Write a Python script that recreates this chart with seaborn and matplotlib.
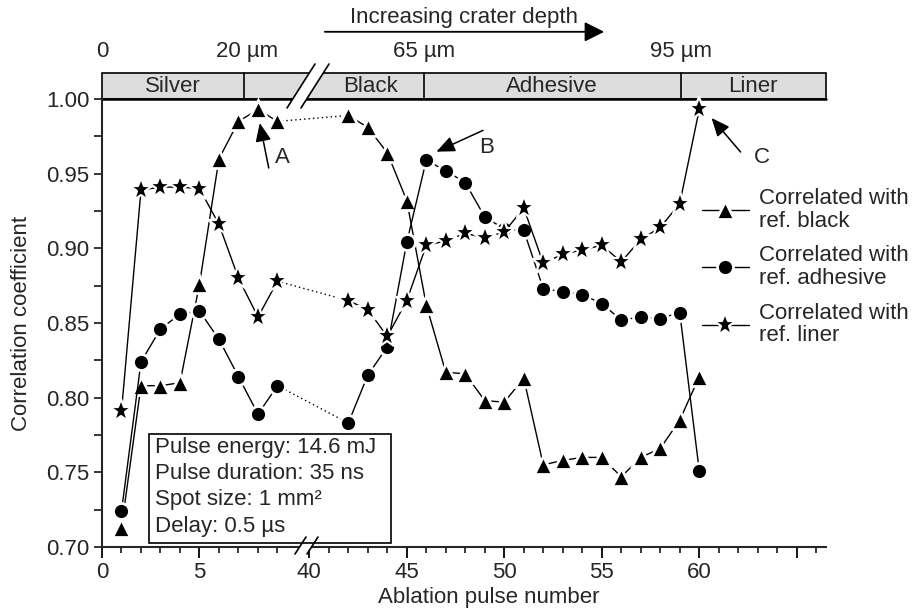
import numpy as np
import pandas as pd
import matplotlib
matplotlib.use("Agg")
import matplotlib.pyplot as plt
import seaborn as sns
import matplotlib.transforms as mtransforms
from matplotlib.patches import Rectangle, Polygon, FancyArrowPatch
from matplotlib.lines import Line2D
from matplotlib.ticker import FixedLocator, FixedFormatter

# ---------------- data ----------------
pulses_left = [1, 2, 3, 4, 5, 6, 7, 8, 9]
pulses_right = [42, 43, 44, 45, 46, 47, 48, 49, 50, 51, 52, 53, 54, 55, 56, 57, 58, 59, 60]

black_ref = [0.713, 0.808, 0.808, 0.810, 0.876, 0.960, 0.985, 0.993, 0.985,
             0.989, 0.981, 0.964, 0.932, 0.862, 0.817, 0.816, 0.798, 0.797, 0.813,
             0.755, 0.758, 0.760, 0.760, 0.747, 0.760, 0.766, 0.785, 0.814]
adhesive_ref = [0.724, 0.824, 0.846, 0.856, 0.858, 0.839, 0.814, 0.789, 0.808,
                0.783, 0.815, 0.834, 0.904, 0.959, 0.952, 0.944, 0.921, 0.913, 0.912,
                0.873, 0.871, 0.869, 0.863, 0.852, 0.854, 0.853, 0.857, 0.751]
liner_ref = [0.791, 0.939, 0.941, 0.941, 0.940, 0.916, 0.880, 0.854, 0.878,
             0.865, 0.859, 0.841, 0.865, 0.902, 0.905, 0.910, 0.907, 0.911, 0.927,
             0.890, 0.896, 0.899, 0.902, 0.891, 0.906, 0.914, 0.930, 0.993]

series_labels = ["Correlated with\nref. black",
                 "Correlated with\nref. adhesive",
                 "Correlated with\nref. liner"]
layer_names = ["Silver", "", "Black", "Adhesive", "Liner"]
layer_bounds = [0, 7.27, 9.9, 45.87, 59.04, 66.5]
depth_labels = ["0", "20 µm", "65 µm", "95 µm"]
depth_pos = [0, 7.45, 45.87, 59.04]
info_lines = ["Pulse energy: 14.6 mJ", "Pulse duration: 35 ns",
              "Spot size: 1 mm²", "Delay: 0.5 µs"]
x_major = [0, 5, 40, 45, 50, 55, 60, 65]
x_major_labels = ["0", "5", "40", "45", "50", "55", "60", ""]
x_minor = [1, 2, 3, 4, 6, 7, 8, 9] + [v for v in range(41, 67) if v % 5 != 0]

pulses = pulses_left + pulses_right
df = pd.DataFrame({
    "pulse": pulses * 3,
    "coef": black_ref + adhesive_ref + liner_ref,
    "series": sum([[s] * len(pulses) for s in series_labels], []),
})
df["segment"] = np.where(df["pulse"] < 20, "left", "right")

# ---------------- style ----------------
sns.set_style("ticks")
plt.rcParams["font.family"] = ["Liberation Sans", "DejaVu Sans"]
FS = 16

OFF = 29.37
def fwd(x):
    x = np.asarray(x, dtype=float)
    return np.where(x < 24.5, x, x - OFF)
def inv(y):
    y = np.asarray(y, dtype=float)
    return np.where(y < 9.9, y, y + OFF)

W, H = 920, 610
def fx(p): return p / W
def fy(p): return 1 - p / H

fig = plt.figure(figsize=(9.2, 6.1), dpi=100)
ax = fig.add_axes([fx(102), fy(547), 724 / W, 448 / H])
ax.set_xscale("function", functions=(fwd, inv))

markers = {series_labels[0]: ("^", 13.5, 2.0),
           series_labels[1]: ("o", 11.5, 2.0),
           series_labels[2]: ("*", 17.0, 1.6)}
for s in series_labels:
    sub = df[df["series"] == s]
    bridge = sub[sub["pulse"].isin([pulses_left[-1], pulses_right[0]])]
    sns.lineplot(data=bridge, x="pulse", y="coef", color="black", lw=1.0,
                 linestyle=(0, (1, 2.2)), estimator=None, errorbar=None,
                 legend=False, ax=ax, zorder=2)
    mk, ms, mew = markers[s]
    for seg in ["left", "right"]:
        part = sub[sub["segment"] == seg]
        sns.lineplot(data=part, x="pulse", y="coef", color="black", lw=1.0,
                     marker=mk, markersize=ms, markeredgecolor="white",
                     markeredgewidth=mew, markerfacecolor="black",
                     estimator=None, errorbar=None, legend=False, ax=ax,
                     zorder=3, clip_on=False,
                     label=s if seg == "right" else "_nolegend_")

ax.set_xlim(0, 66.5)
ax.set_ylim(0.70, 1.00)

ax.xaxis.set_major_locator(FixedLocator(x_major))
ax.xaxis.set_major_formatter(FixedFormatter(x_major_labels))
ax.xaxis.set_minor_locator(FixedLocator(x_minor))
ax.set_yticks(np.round(np.arange(0.70, 1.001, 0.05), 3))
ax.set_yticklabels([f"{v:.2f}" for v in np.arange(0.70, 1.001, 0.05)])
ax.yaxis.set_minor_locator(FixedLocator(np.round(np.arange(0.725, 1.0, 0.05), 3)))

ax.tick_params(axis="x", which="major", length=8, width=1.3, direction="out",
               labelsize=FS, pad=3, color="black")
ax.tick_params(axis="x", which="minor", length=4, width=1.3, direction="out")
ax.tick_params(axis="y", which="both", length=6, width=1.3, direction="out",
               labelsize=FS, pad=3)

for sp in ["top", "right"]:
    ax.spines[sp].set_visible(False)
for sp in ["left", "bottom"]:
    ax.spines[sp].set_linewidth(1.5)

ax.set_xlabel("Ablation pulse number", fontsize=FS)
ax.set_ylabel("Correlation coefficient", fontsize=FS)
ax.xaxis.label.set_va("center")
ax.xaxis.set_label_coords(0.534, -0.112)
ax.yaxis.set_label_coords(-0.097, 0.5)

# ---------------- top layer band ----------------
bt = mtransforms.blended_transform_factory(ax.transData, ax.transAxes)
band_top = 1.058
ax.add_patch(Rectangle((layer_bounds[0], 1.0), layer_bounds[-1] - layer_bounds[0],
                       band_top - 1.0, transform=bt, facecolor="#dddddd",
                       edgecolor="black", lw=1.2, clip_on=False, zorder=1))
ax.plot([0, 66.5], [1.0, 1.0], transform=bt, color="black", lw=1.8, clip_on=False, zorder=1.5)
for b in [layer_bounds[1], layer_bounds[3], layer_bounds[4]]:
    ax.plot([b, b], [1.0, band_top], transform=bt, color="black", lw=1.2,
            clip_on=False, zorder=1.5)
for i, name in enumerate(layer_names):
    if name:
        lo, hi = layer_bounds[i], layer_bounds[i + 1]
        if name == "Black":
            lo = 40.4
        c = float(inv((fwd(lo) + fwd(hi)) / 2))
        ax.text(c, 1.029, name, transform=bt, ha="center", va="center",
                fontsize=FS, clip_on=False)
for lab, p in zip(depth_labels, depth_pos):
    ax.text(p, 1.105, lab, transform=bt, ha="center", va="center", fontsize=FS)

# increasing depth arrow
ax.text(0.50, 1.181, "Increasing crater depth", transform=ax.transAxes,
        ha="center", va="center", fontsize=FS)
ax.add_patch(FancyArrowPatch((0.304, 1.150), (0.6975, 1.150), transform=ax.transAxes,
                             arrowstyle="-|>,head_length=0.6,head_width=0.3",
                             mutation_scale=20, lw=1.3, color="black", clip_on=False))

# ---------------- break marks ----------------
def brk(s1, s2, ymin, ymax):
    def xat(seg, y):
        (xb, yb), (xt, yt) = seg
        return xb + (xt - xb) * (yb - y) / (yb - yt)
    poly = [(fx(xat(s1, ymax)), fy(ymax)), (fx(xat(s1, ymin)), fy(ymin)),
            (fx(xat(s2, ymin)), fy(ymin)), (fx(xat(s2, ymax)), fy(ymax))]
    fig.add_artist(Polygon(poly, closed=True, facecolor="white", edgecolor="none",
                           transform=fig.transFigure, zorder=5))
    for (xb, yb), (xt, yt) in (s1, s2):
        fig.add_artist(Line2D([fx(xb), fx(xt)], [fy(yb), fy(yt)], color="black",
                              lw=1.2, transform=fig.transFigure, zorder=6))

brk(((287, 108), (315, 64)), ((301, 108), (329, 64)), 66, 101)
brk(((295, 554), (306, 537)), ((307, 554), (318, 537)), 544, 550)

# ---------------- annotations ----------------
arrow_kw = dict(arrowstyle="-|>,head_length=0.7,head_width=0.3", color="black",
                lw=1.1, shrinkA=0, shrinkB=0, mutation_scale=16)
ax.annotate("", xy=(8.09, 0.9839), xytext=(8.55, 0.9538), arrowprops=arrow_kw,
            annotation_clip=False)
ax.text(9.27, 0.9605, "A", fontsize=FS, ha="center", va="center")
ax.annotate("", xy=(46.52, 0.9647), xytext=(48.91, 0.979), arrowprops=arrow_kw,
            annotation_clip=False)
ax.text(49.1, 0.9675, "B", fontsize=FS, ha="center", va="center")
ax.annotate("", xy=(60.63, 0.9873), xytext=(62.12, 0.9645), arrowprops=arrow_kw,
            annotation_clip=False)
ax.text(63.2, 0.961, "C", fontsize=FS, ha="center", va="center")

# ---------------- info box ----------------
ax.add_patch(Rectangle((0.0645, 0.0089), 0.3343, 0.2433, transform=ax.transAxes,
                       facecolor="white", edgecolor="black", lw=1.2, zorder=4))
for i, line in enumerate(info_lines):
    ax.text(0.0728, 0.2232 - i * 0.0588, line, transform=ax.transAxes,
            ha="left", va="center", fontsize=FS, zorder=5)

# ---------------- legend ----------------
h, l = ax.get_legend_handles_labels()
leg = ax.legend(h, l, loc="upper left", bbox_to_anchor=(fx(702), fy(188)),
                bbox_transform=fig.transFigure, frameon=False, handlelength=2.1,
                handletextpad=0.45, labelspacing=0.6, fontsize=FS, borderpad=0,
                borderaxespad=0)
for t in leg.get_texts():
    t.set_linespacing(1.12)

fig.savefig("out.png", dpi=100)
